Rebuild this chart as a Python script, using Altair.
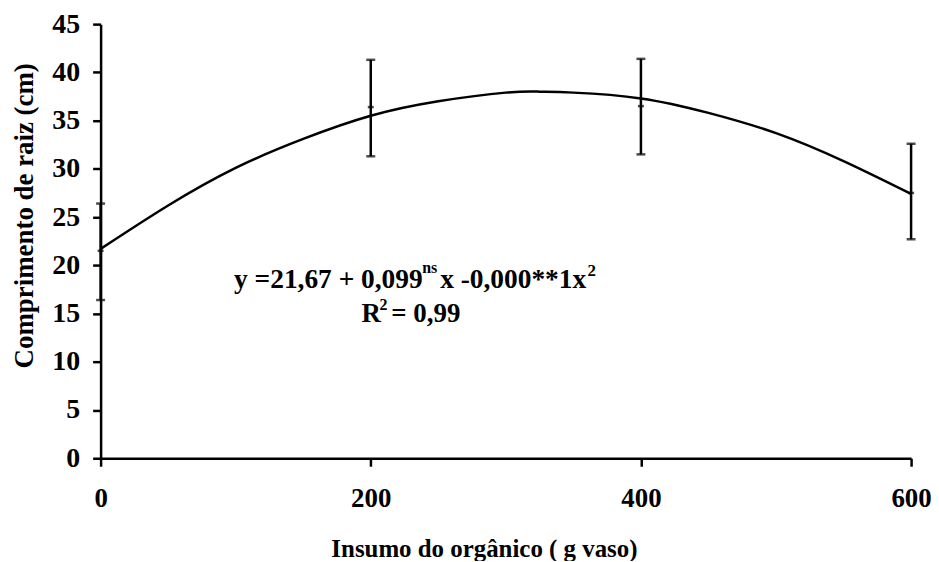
import altair as alt
import pandas as pd

# Observed means and error bars
dose = [0, 200, 400, 600]
mean = [21.5, 36.4, 36.5, 27.5]
err_low = [16.4, 31.3, 31.5, 22.7]
err_high = [26.4, 41.3, 41.4, 32.6]

# Fitted quadratic curve
curve_x = [0, 50, 100, 150, 200, 250, 300, 325, 350, 400, 450, 500, 550, 600]
curve_y = [21.7, 26.2, 30.1, 33.1, 35.5, 37.0, 37.9, 38.0, 37.9, 37.3, 35.8, 33.7, 30.8, 27.4]

# Equation annotation pieces
eq_text = ["y =21,67 + 0,099", "ns", "x -0,000**1x", "2", "R", "2", "= 0,99"]
eq_x = [98.8, 238.1, 251.4, 360.4, 193.1, 206.4, 215.2]
eq_y = [17.65, 19.20, 17.65, 18.89, 14.14, 15.38, 14.14]
eq_size = [27.5, 16, 27.5, 17, 27, 16, 27]

FONT = "Liberation Serif"

pts = pd.DataFrame({"dose": dose, "mean": mean, "lo": err_low, "hi": err_high})
curve = pd.DataFrame({"x": curve_x, "y": curve_y})
eq = pd.DataFrame({"t": eq_text, "x": eq_x, "y": eq_y, "s": eq_size})

xscale = alt.Scale(domain=[0, 600], nice=False, zero=False)
yscale = alt.Scale(domain=[0, 45], nice=False)

xaxis = alt.Axis(values=[0, 200, 400, 600], title="Insumo do orgânico ( g vaso)",
                 labelFontSize=27, labelPadding=19, tickSize=8,
                 titleFontSize=25, titleX=385, titleY=91, titleAlign="center",
                 titleBaseline="middle", labelFlush=False)
yaxis = alt.Axis(values=list(range(0, 50, 5)), title="Comprimento de raiz (cm)",
                 labelFontSize=28, labelPadding=13, tickSize=8,
                 titleFontSize=27, titleX=-76, titleY=192, titleAngle=-90,
                 titleAlign="center", titleBaseline="middle")

line = alt.Chart(curve).mark_line(color="black", strokeWidth=2.5, interpolate="natural").encode(
    x=alt.X("x:Q", scale=xscale, axis=xaxis),
    y=alt.Y("y:Q", scale=yscale, axis=yaxis),
)

bars = alt.Chart(pts).mark_rule(color="black", strokeWidth=2.5).encode(
    x=alt.X("dose:Q", scale=xscale),
    y=alt.Y("lo:Q", scale=yscale),
    y2="hi:Q",
)
cap_lo = alt.Chart(pts).mark_tick(color="black", orient="horizontal", size=9, thickness=2.5).encode(
    x=alt.X("dose:Q", scale=xscale), y=alt.Y("lo:Q", scale=yscale))
cap_hi = alt.Chart(pts).mark_tick(color="black", orient="horizontal", size=9, thickness=2.5).encode(
    x=alt.X("dose:Q", scale=xscale), y=alt.Y("hi:Q", scale=yscale))
mid = alt.Chart(pts).mark_tick(color="black", orient="horizontal", size=6, thickness=2.5).encode(
    x=alt.X("dose:Q", scale=xscale), y=alt.Y("mean:Q", scale=yscale))

text = alt.Chart(eq).mark_text(font=FONT, fontWeight="bold", color="black",
                               align="left", baseline="alphabetic").encode(
    x=alt.X("x:Q", scale=xscale),
    y=alt.Y("y:Q", scale=yscale),
    text="t:N",
    size=alt.Size("s:Q", scale=None, legend=None),
)

chart = alt.layer(bars, cap_lo, cap_hi, mid, line, text).properties(
    width=814, height=436,
    background="white",
    autosize=alt.AutoSizeParams(type="none"),
    padding={"left": 93, "top": 15, "right": 20, "bottom": 102},
).configure_view(stroke=None).configure_axis(
    grid=False, domainColor="black", domainWidth=2.5, tickColor="black", tickWidth=2.5,
    labelFont=FONT, labelFontWeight="bold", labelColor="black",
    titleFont=FONT, titleFontWeight="bold", titleColor="black",
)

chart.save("out.html", embed_options={"renderer": "svg", "actions": False})
